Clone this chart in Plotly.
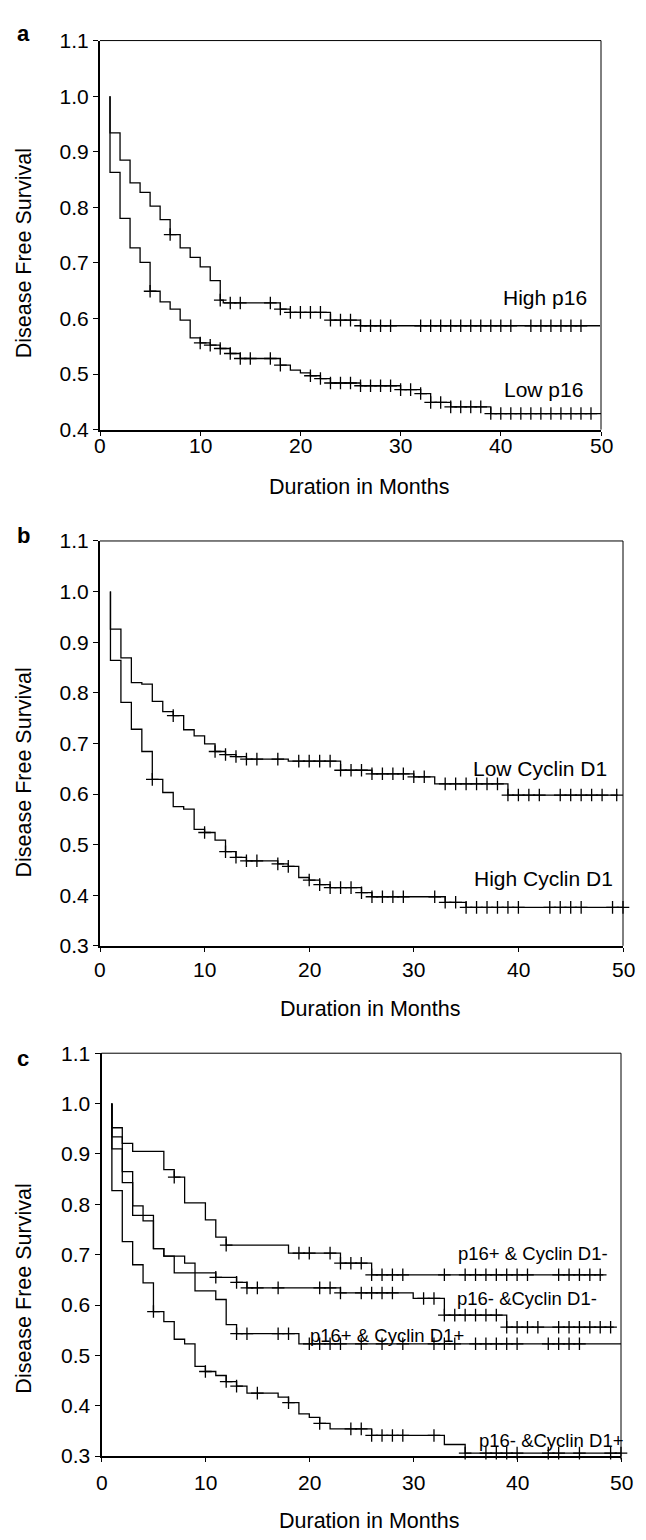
import plotly.graph_objects as go

W, H = 646, 1540

# ---------------- data (months, survival) ----------------
# Panel a
a_high_t = [1, 2, 3, 4, 5, 6, 7, 8, 9, 10, 11, 12, 12.3, 18, 19, 23, 26]
a_high_s = [0.934, 0.885, 0.844, 0.827, 0.802, 0.778, 0.751, 0.727, 0.710, 0.693, 0.668,
            0.633, 0.628, 0.617, 0.611, 0.597, 0.587]
a_high_c = [7, 12, 13, 14, 17, 18, 19, 20, 21, 22, 23, 24, 25, 26, 27, 28, 29, 32, 33, 34,
            35, 36, 37, 38, 39, 40, 41, 43, 44, 45, 46, 47, 48]
a_high_end = 49.9

a_low_t = [1, 2, 3, 4, 5, 6, 7, 8, 9, 10, 11, 12, 13, 14, 18, 19, 20, 21, 22, 23, 26, 30,
           32, 33, 35, 39]
a_low_s = [0.863, 0.780, 0.727, 0.701, 0.649, 0.630, 0.617, 0.597, 0.565, 0.556, 0.552,
           0.546, 0.537, 0.528, 0.516, 0.507, 0.502, 0.497, 0.492, 0.484, 0.479, 0.472,
           0.465, 0.449, 0.441, 0.429]
a_low_c = [5, 10, 11, 12, 13, 14, 15, 17, 18, 21, 22, 23, 24, 25, 26, 27, 28, 29, 30, 31,
           32, 33, 34, 35, 36, 37, 38, 39, 40, 41, 42, 43, 44, 45, 46, 47, 48, 49]
a_low_end = 50.5

# Panel b
b_low_t = [1, 2, 3, 4, 5, 6, 7, 8, 9, 10, 11, 12, 13, 14, 18, 23, 26, 30, 32, 39]
b_low_s = [0.926, 0.869, 0.820, 0.817, 0.783, 0.763, 0.755, 0.727, 0.715, 0.699, 0.684,
           0.678, 0.674, 0.669, 0.665, 0.647, 0.640, 0.634, 0.620, 0.598]
b_low_c = [7, 11, 12, 13, 14, 15, 17, 19, 20, 21, 22, 23, 24, 25, 26, 27, 28, 29, 30, 31,
           33, 34, 35, 36, 37, 38, 39, 40, 41, 42, 44, 45, 46, 47, 48, 49.4]
b_low_end = 49.5

b_high_t = [1, 2, 3, 4, 5, 6, 7, 8, 9, 10, 11, 12, 13, 14, 17, 18, 19, 20, 21, 22, 25, 26,
            33, 35]
b_high_s = [0.864, 0.781, 0.728, 0.684, 0.629, 0.603, 0.575, 0.570, 0.530, 0.524, 0.509,
            0.486, 0.475, 0.468, 0.462, 0.457, 0.435, 0.430, 0.421, 0.415, 0.405, 0.397,
            0.386, 0.376]
b_high_c = [5, 10, 12, 13, 14, 15, 17, 18, 20, 21, 22, 23, 24, 25, 26, 27, 28, 29, 32, 33,
            34, 35, 36, 37, 38, 39, 40, 43, 44, 45, 46, 49, 50]
b_high_end = 50.5

# Panel c
c_pp_neg_t = [1, 2, 3, 6, 7, 8, 10, 11, 12, 18, 23, 26]          # p16+ & Cyclin D1-
c_pp_neg_s = [0.952, 0.921, 0.905, 0.869, 0.854, 0.803, 0.769, 0.735, 0.719, 0.703,
              0.683, 0.660]
c_pp_neg_c = [7, 12, 19, 20, 22, 23, 24, 25, 26, 27, 28, 29, 33, 35, 36, 37, 38, 39, 40,
              41, 44, 45, 46, 47, 48]
c_pp_neg_end = 48.3

c_nn_neg_t = [1, 2, 3, 4, 5, 6, 7, 11, 13, 14, 23, 30, 33, 39]  # p16- & Cyclin D1-
c_nn_neg_s = [0.934, 0.865, 0.797, 0.767, 0.712, 0.697, 0.664, 0.655, 0.645, 0.634,
              0.624, 0.613, 0.580, 0.556]
c_nn_neg_c = [11, 13, 14, 15, 17, 21, 22, 23, 25, 26, 27, 28, 31, 32, 33, 34, 35, 36, 37,
              38, 39, 40, 41, 42, 44, 45, 46, 47, 48, 49]
c_nn_neg_end = 49.3

c_pp_pos_t = [1, 2, 3, 5, 6, 8, 9, 11, 12, 13, 19]                # p16+ & Cyclin D1+
c_pp_pos_s = [0.910, 0.843, 0.778, 0.712, 0.697, 0.683, 0.628, 0.611, 0.561, 0.543, 0.523]
c_pp_pos_c = [13, 14, 17, 18, 20, 21, 22, 23, 25, 27, 29, 32, 33, 34, 36, 37, 38, 39, 40,
              43, 44, 45, 46]
c_pp_pos_end = 50.5

c_nn_pos_t = [1, 2, 3, 4, 5, 6, 7, 8, 9, 10, 11, 12, 13, 14, 17, 18, 19, 20, 21, 22, 26,
              33, 35]                                               # p16- & Cyclin D1+
c_nn_pos_s = [0.827, 0.726, 0.680, 0.644, 0.587, 0.567, 0.532, 0.523, 0.478, 0.468, 0.460,
              0.448, 0.439, 0.425, 0.417, 0.406, 0.384, 0.377, 0.365, 0.354, 0.341, 0.323,
              0.306]
c_nn_pos_c = [5, 10, 12, 13, 15, 18, 21, 24, 25, 26, 27, 28, 29, 32, 35, 37, 38, 39, 40,
              43, 44, 46, 49, 50]
c_nn_pos_end = 50.4

x_ticks = [0, 10, 20, 30, 40, 50]

# ---------------- helpers ----------------
FONT = "Liberation Sans, Arial, Helvetica, sans-serif"
TICK_FS = 21
TITLE_FS = 21.5


def surv_at(times, surv, c):
    v = 1.0
    for t, s in zip(times, surv):
        if t <= c:
            v = s
        else:
            break
    return v


panels = [
    dict(name="a", px=(100, 601), py=(29, 424), yr=(0.4, 1.1), xlab_y=440,
         curves=[(a_high_t, a_high_s, a_high_c, a_high_end),
                 (a_low_t, a_low_s, a_low_c, a_low_end)],
         labels=[("High p16", 44.4, 0.637, 21), ("Low p16", 44.3, 0.472, 21)],
         ytitle_y=245, xtitle_y=482, letter_y=22),
    dict(name="b", px=(100, 623), py=(537, 948), yr=(0.3, 1.1), xlab_y=972,
         curves=[(b_low_t, b_low_s, b_low_c, b_low_end),
                 (b_high_t, b_high_s, b_high_c, b_high_end)],
         labels=[("Low Cyclin D1", 42.1, 0.651, 21), ("High Cyclin D1", 42.4, 0.433, 21)],
         ytitle_y=772, xtitle_y=1012, letter_y=531),
    dict(name="c", px=(101.5, 621), py=(1057, 1466), yr=(0.3, 1.1), xlab_y=1493,
         curves=[(c_pp_neg_t, c_pp_neg_s, c_pp_neg_c, c_pp_neg_end),
                 (c_nn_neg_t, c_nn_neg_s, c_nn_neg_c, c_nn_neg_end),
                 (c_pp_pos_t, c_pp_pos_s, c_pp_pos_c, c_pp_pos_end),
                 (c_nn_pos_t, c_nn_pos_s, c_nn_pos_c, c_nn_pos_end)],
         labels=[("p16+ & Cyclin D1-", 41.5, 0.703, 18.5),
                 ("p16- &Cyclin D1-", 41.0, 0.613, 18.5),
                 ("p16+ & Cyclin D1+", 27.5, 0.540, 18.5),
                 ("p16- &Cyclin D1+", 43.3, 0.331, 18.5)],
         ytitle_y=1296, xtitle_y=1532, letter_y=1062),
]

fig = go.Figure()
layout = dict(width=W, height=H, margin=dict(l=0, r=0, t=0, b=0),
              paper_bgcolor="white", plot_bgcolor="white", showlegend=False,
              font=dict(family=FONT, color="black"))
annotations = []
shapes = []


def ann(text, x, y, xref="paper", yref="paper", size=20, angle=0):
    return dict(text=text, x=x, y=y, xref=xref, yref=yref, showarrow=False,
                xanchor="center", yanchor="middle", textangle=angle,
                font=dict(size=size, family=FONT, color="black"))


for i, p in enumerate(panels):
    k = "" if i == 0 else str(i + 1)
    xa, ya = "x" + k, "y" + k
    for (t, s, c, end) in p["curves"]:
        xs = [t[0]] + list(t) + [end]
        ys = [1.0] + list(s) + [s[-1]]
        fig.add_trace(go.Scatter(x=xs, y=ys, mode="lines",
                                 line=dict(shape="hv", color="black", width=1.3),
                                 xaxis=xa, yaxis=ya, hoverinfo="skip"))
        fig.add_trace(go.Scatter(x=c, y=[surv_at(t, s, cc) for cc in c], mode="markers",
                                 marker=dict(symbol="cross-thin", size=9,
                                             line=dict(width=1.3, color="black")),
                                 cliponaxis=False, xaxis=xa, yaxis=ya, hoverinfo="skip"))
    x0, x1 = p["px"]
    y0, y1 = p["py"]
    layout["xaxis" + k] = dict(domain=[x0 / W, x1 / W], range=[0, 50], tickvals=x_ticks,
                               showticklabels=False,
                               showline=True, linecolor="black", linewidth=2, ticks="outside",
                               ticklen=4, tickwidth=1, tickcolor="black", showgrid=False,
                               zeroline=False, anchor=ya)
    layout["yaxis" + k] = dict(domain=[1 - y1 / H, 1 - y0 / H], range=list(p["yr"]), dtick=0.1,
                               tickformat=".1f", showline=True, linecolor="black", linewidth=2,
                               ticks="outside", ticklen=5, tickwidth=1, tickcolor="black",
                               showgrid=False, zeroline=False, anchor=xa,
                               tickfont=dict(size=TICK_FS, family=FONT, color="black"))
    # top and right frame
    shapes.append(dict(type="line", xref=xa + " domain", yref=ya + " domain",
                       x0=0, x1=1, y0=1, y1=1, line=dict(color="black", width=1)))
    shapes.append(dict(type="line", xref=xa + " domain", yref=ya + " domain",
                       x0=1, x1=1, y0=0, y1=1, line=dict(color="black", width=1)))
    # x tick labels
    for tv in x_ticks:
        annotations.append(ann(str(tv), tv, 1 - p["xlab_y"] / H, xref=xa, size=TICK_FS))
    for (txt, lx, ly, fs) in p["labels"]:
        annotations.append(ann(txt, lx, ly, xref=xa, yref=ya, size=fs))
    annotations.append(ann("Disease Free Survival", 24 / W, 1 - p["ytitle_y"] / H,
                           size=TITLE_FS, angle=-90))
    annotations.append(ann("Duration in Months", ((x0 + x1) / 2 + 8) / W,
                           1 - p["xtitle_y"] / H, size=TITLE_FS))
    annotations.append(ann("<b>" + p["name"] + "</b>", 23 / W, 1 - p["letter_y"] / H, size=22))

layout["annotations"] = annotations
layout["shapes"] = shapes
fig.update_layout(**layout)

fig.write_html("out.html", config={"displayModeBar": False},
               post_script="document.body.style.margin='0';")
